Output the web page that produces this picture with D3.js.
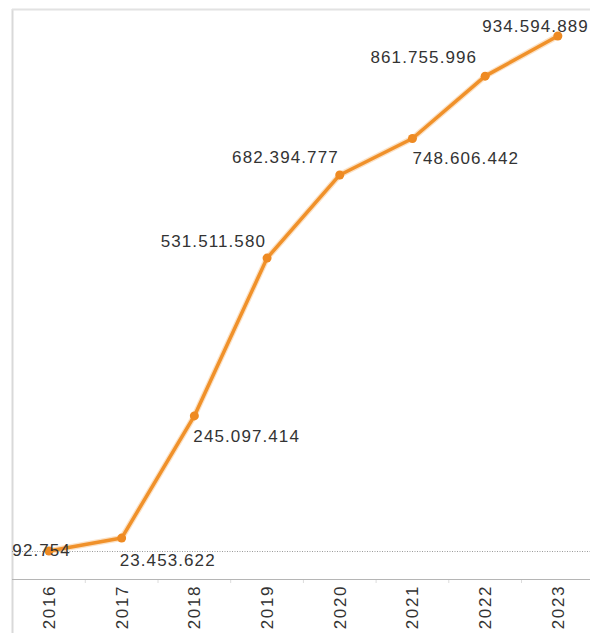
<!DOCTYPE html>
<html>
<head>
<meta charset="utf-8">
<script src="https://cdn.jsdelivr.net/npm/d3@7"></script>
<style>
  html, body { margin: 0; padding: 0; background: #fff; }
  svg { display: block; }
  .lbl { font-family: "Liberation Sans", Arial, sans-serif; font-size: 17px; fill: #333; letter-spacing: 1.1px; }
</style>
</head>
<body>
<svg id="chart" width="590" height="633"></svg>
<script>
// Yearly totals
const years = ["2016", "2017", "2018", "2019", "2020", "2021", "2022", "2023"];
const totals = [92754, 23453622, 245097414, 531511580, 682394777, 748606442, 861755996, 934594889];
const valueLabels = ["92.754", "23.453.622", "245.097.414", "531.511.580", "682.394.777", "748.606.442", "861.755.996", "934.594.889"];

const W = 590, H = 633;
const frame = { left: 12, top: 9, axisY: 579 };

const svg = d3.select("#chart");

const x = d3.scaleBand().domain(years).range([frame.left + 0.6, frame.left + 0.6 + 72.7 * years.length]).padding(0);
const y = d3.scaleLinear().domain([0, 934594889]).range([551, 36]);
const cx = d => x(d) + x.bandwidth() / 2;

// Frame: left and top borders
svg.append("line").attr("x1", frame.left + 0.5).attr("x2", frame.left + 0.5)
  .attr("y1", frame.top).attr("y2", H).attr("stroke", "#d9d9d9").attr("stroke-width", 2);
svg.append("line").attr("x1", frame.left).attr("x2", W)
  .attr("y1", frame.top + 0.5).attr("y2", frame.top + 0.5).attr("stroke", "#e2e2e2").attr("stroke-width", 2);

// Zero reference line
svg.append("line").attr("x1", frame.left).attr("x2", W)
  .attr("y1", y(0) + 0.5).attr("y2", y(0) + 0.5)
  .attr("stroke", "#9a9a9a").attr("stroke-width", 1).attr("stroke-dasharray", "1,1.5");

// Category axis
const xAxis = d3.axisBottom(x).tickSize(0).tickPadding(6);
const gx = svg.append("g").attr("transform", `translate(0,${frame.axisY})`).call(xAxis);
gx.select(".domain").attr("stroke", "#b5b5b5").attr("stroke-width", 1.2).attr("d", `M${frame.left},0.5H${W}`);
gx.selectAll(".tick text")
  .attr("class", "lbl")
  .attr("transform", "rotate(-90)")
  .attr("text-anchor", "end")
  .attr("x", -6).attr("y", 0).attr("dy", "0.35em")
  .style("font-size", "17px").style("fill", "#333").style("letter-spacing", "1.6px");
// Separators between categories
gx.selectAll(".sep").data(years.slice(1)).join("line")
  .attr("x1", d => x(d)).attr("x2", d => x(d))
  .attr("y1", 1).attr("y2", 4).attr("stroke", "#dcdcdc");

// Line and markers
const orange = "#F0912A";
const line = d3.line().x((d, i) => cx(years[i])).y(d => y(d));
svg.append("path").datum(totals).attr("d", line)
  .attr("fill", "none").attr("stroke", "#f7c48c").attr("stroke-width", 6).attr("opacity", 0.5);
svg.append("path").datum(totals).attr("d", line)
  .attr("fill", "none").attr("stroke", orange).attr("stroke-width", 3.5).attr("stroke-linejoin", "round");
svg.selectAll(".pt").data(totals).join("circle")
  .attr("cx", (d, i) => cx(years[i])).attr("cy", d => y(d)).attr("r", 4.5).attr("fill", "#EE8A22");

// Value label placement: which side of the point each label sits on
const placement = [
  { anchor: "end", dx: 22, dy: -1 },
  { anchor: "start", dx: -2, dy: 22 },
  { anchor: "start", dx: -1, dy: 20 },
  { anchor: "end", dx: -1, dy: -17 },
  { anchor: "end", dx: -1, dy: -18 },
  { anchor: "start", dx: 0, dy: 20 },
  { anchor: "end", dx: -8, dy: -19 },
  { anchor: "end", dx: 31, dy: -10 }
];
svg.selectAll(".val").data(totals).join("text")
  .attr("class", "lbl")
  .attr("x", (d, i) => cx(years[i]) + placement[i].dx)
  .attr("y", (d, i) => y(d) + placement[i].dy)
  .attr("dy", "0.35em")
  .attr("text-anchor", (d, i) => placement[i].anchor)
  .text((d, i) => valueLabels[i]);
</script>
</body>
</html>
